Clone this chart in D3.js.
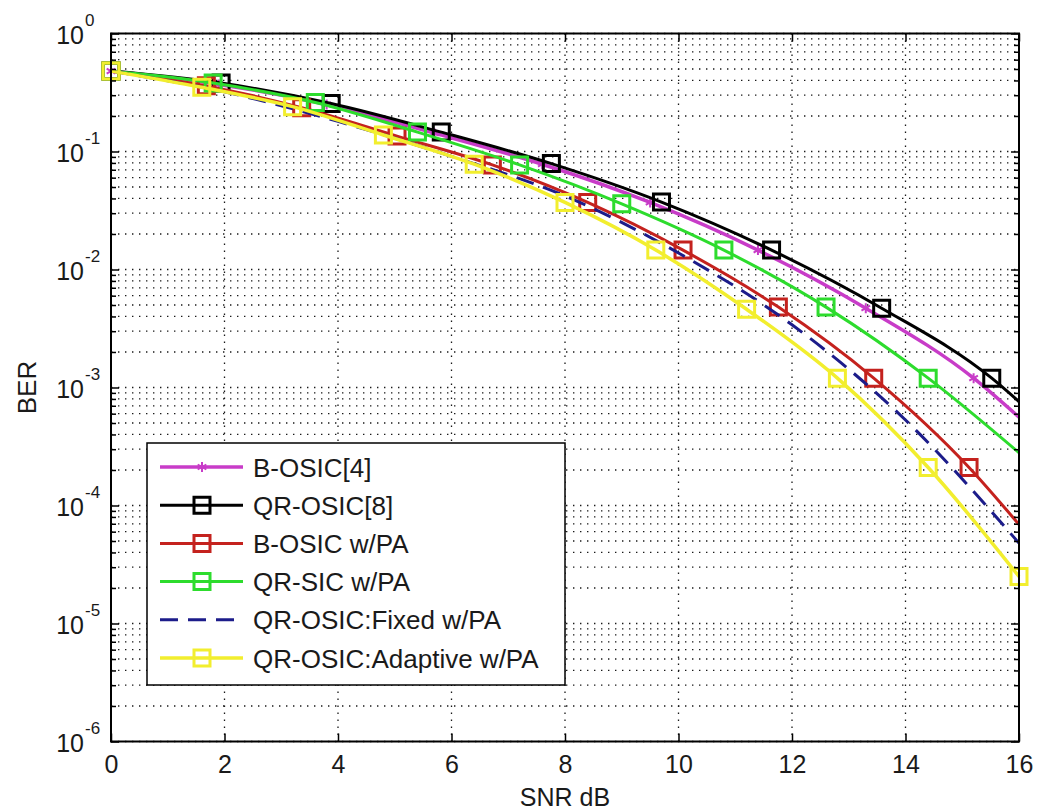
<!DOCTYPE html>
<html>
<head>
<meta charset="utf-8">
<script src="https://cdn.jsdelivr.net/npm/d3@7"></script>
<style>
  body { margin: 0; background: #fff; }
  text { font-family: "Liberation Sans", Arial, sans-serif; fill: #1a1a1a; }
  .axis path { display: none; }
  .axis line { stroke: #000; stroke-width: 1.5; }
  .grid line { stroke: #1a1a1a; stroke-width: 1.3; stroke-dasharray: 1.4 5.6; }
</style>
</head>
<body>
<div id="div_graph"></div>
<script>
// x axis ticks (SNR dB) and y decades (BER)
var xTicks = [0, 2, 4, 6, 8, 10, 12, 14, 16];
var yDecades = [1, 1e-1, 1e-2, 1e-3, 1e-4, 1e-5, 1e-6];
var yExponents = ["0", "-1", "-2", "-3", "-4", "-5", "-6"];

// B-OSIC[4]
var snrBosic = [0, 1.9, 3.8, 5.7, 7.6, 9.5, 11.4, 13.3, 15.2, 16];
var berBosic = [0.48, 0.37, 0.25, 0.143, 0.078, 0.037, 0.0146, 0.0047, 0.0012, 5.6e-4];
// QR-OSIC[8]
var snrQrosic = [0, 1.94, 3.88, 5.82, 7.76, 9.7, 11.64, 13.58, 15.52, 16];
var berQrosic = [0.48, 0.38, 0.255, 0.146, 0.079, 0.0373, 0.0146, 0.0047, 0.0012, 7.6e-4];
// B-OSIC w/PA
var snrBosicPa = [0, 1.68, 3.36, 5.04, 6.72, 8.4, 10.08, 11.76, 13.44, 15.12, 16];
var berBosicPa = [0.48, 0.36, 0.235, 0.135, 0.077, 0.037, 0.0146, 0.0048, 0.0012, 2.1e-4, 6.9e-5];
// QR-SIC w/PA
var snrQrsicPa = [0, 1.8, 3.6, 5.4, 7.2, 9.0, 10.8, 12.6, 14.4, 16];
var berQrsicPa = [0.48, 0.38, 0.26, 0.146, 0.077, 0.036, 0.0146, 0.0048, 0.0012, 2.8e-4];
// QR-OSIC:Fixed w/PA
var snrFixed = [0, 2, 4, 6, 8, 10, 12, 14, 16];
var berFixed = [0.48, 0.32, 0.18, 0.091, 0.042, 0.0138, 0.0034, 5.3e-4, 4.8e-5];
// QR-OSIC:Adaptive w/PA
var snrAdaptive = [0, 1.6, 3.2, 4.8, 6.4, 8.0, 9.6, 11.2, 12.8, 14.4, 16];
var berAdaptive = [0.48, 0.35, 0.24, 0.138, 0.078, 0.037, 0.0146, 0.0046, 0.0012, 2.1e-4, 2.5e-5];

var seriesNames = ["B-OSIC[4]", "QR-OSIC[8]", "B-OSIC w/PA", "QR-SIC w/PA", "QR-OSIC:Fixed w/PA", "QR-OSIC:Adaptive w/PA"];

function zip(xs, ys)
{
  return xs.map(function(x, i) { return {snr: x, ber: ys[i]}; });
}

var series = [
  {name: seriesNames[0], data: zip(snrBosic, berBosic), color: "#c83cc8", width: 3.5, marker: "star", markEnd: false},
  {name: seriesNames[1], data: zip(snrQrosic, berQrosic), color: "#000000", width: 3, marker: "square", markEnd: false},
  {name: seriesNames[2], data: zip(snrBosicPa, berBosicPa), color: "#c4221e", width: 3, marker: "square", markEnd: false},
  {name: seriesNames[3], data: zip(snrQrsicPa, berQrsicPa), color: "#2ddc2d", width: 3, marker: "square", markEnd: false},
  {name: seriesNames[4], data: zip(snrFixed, berFixed), color: "#1c1c8a", width: 3, marker: null, dash: "18 10"},
  {name: seriesNames[5], data: zip(snrAdaptive, berAdaptive), color: "#f2ee2e", width: 3.5, marker: "square", markEnd: true}
];

var margin = {top: 33.5, right: 19, bottom: 70.5, left: 111};
var W = 1038, H = 812;
var width = W - margin.left - margin.right;
var height = H - margin.top - margin.bottom;

var svg = d3.select("#div_graph").append("svg")
  .attr("width", W).attr("height", H)
  .append("g")
  .attr("transform", "translate(" + margin.left + "," + margin.top + ")");

var xScale = d3.scaleLinear().domain([0, 16]).range([0, width]);
var yScale = d3.scaleLog().domain([1e-6, 1]).range([height, 0]);

// minor decade values 2..9 x 10^k
var yMinor = [];
yDecades.slice(1).forEach(function(d)
{
  for (var m = 2; m <= 9; m++) yMinor.push(d * m);
});

// grid
var grid = svg.append("g").attr("class", "grid");
grid.selectAll(".gy").data(yDecades.concat(yMinor)).enter().append("line")
  .attr("x1", 0).attr("x2", width)
  .attr("y1", function(d) { return yScale(d); })
  .attr("y2", function(d) { return yScale(d); });
grid.selectAll(".gx").data(xTicks.slice(1, -1)).enter().append("line")
  .attr("y1", 0).attr("y2", height)
  .attr("x1", function(d) { return xScale(d); })
  .attr("x2", function(d) { return xScale(d); });

// lines
var valueline = d3.line()
  .x(function(d) { return xScale(d.snr); })
  .y(function(d) { return yScale(d.ber); })
  .curve(d3.curveMonotoneX);

var symSquare = d3.symbol().type(d3.symbolSquare).size(256);
var symStar = d3.symbol().type(d3.symbolAsterisk).size(70);

series.forEach(function(s)
{
  svg.append("path").datum(s.data)
    .attr("fill", "none")
    .attr("stroke", s.color)
    .attr("stroke-width", s.width)
    .attr("stroke-dasharray", s.dash || null)
    .attr("d", valueline);

  if (s.marker)
  {
    var pts = s.markEnd ? s.data : s.data.slice(0, -1);
    svg.selectAll(null).data(pts).enter().append("path")
      .attr("transform", function(d) { return "translate(" + xScale(d.snr) + "," + yScale(d.ber) + ")"; })
      .attr("d", s.marker == "square" ? symSquare : symStar)
      .attr("fill", "none")
      .attr("stroke", s.color)
      .attr("stroke-width", s.marker == "square" ? 3 : 2);
  }
});

// axes with inward ticks
var xAxisCall = d3.axisBottom(xScale).tickValues(xTicks).tickSizeInner(-8).tickSizeOuter(0).tickPadding(14);
var xAxisTop = d3.axisTop(xScale).tickValues(xTicks).tickSizeInner(-8).tickSizeOuter(0).tickFormat("");
var yAxisCall = d3.axisLeft(yScale).tickValues(yDecades).tickSizeInner(-8).tickSizeOuter(0).tickFormat("");
var yAxisRight = d3.axisRight(yScale).tickValues(yDecades).tickSizeInner(-8).tickSizeOuter(0).tickFormat("");
var yMinorLeft = d3.axisLeft(yScale).tickValues(yMinor).tickSizeInner(-5).tickSizeOuter(0).tickFormat("");
var yMinorRight = d3.axisRight(yScale).tickValues(yMinor).tickSizeInner(-5).tickSizeOuter(0).tickFormat("");

svg.append("g").attr("class", "x axis").attr("transform", "translate(0," + height + ")").call(xAxisCall)
  .selectAll("text").style("font-size", "25px");
svg.append("g").attr("class", "axis").call(xAxisTop);
svg.append("g").attr("class", "y axis").call(yAxisCall);
svg.append("g").attr("class", "axis").attr("transform", "translate(" + width + ",0)").call(yAxisRight);
svg.append("g").attr("class", "axis").call(yMinorLeft);
svg.append("g").attr("class", "axis").attr("transform", "translate(" + width + ",0)").call(yMinorRight);

// y tick labels 10^k
svg.select(".y").selectAll(".tick").each(function(d, i)
{
  var t = d3.select(this);
  t.selectAll("text").remove();
  t.append("text").attr("x", -27).attr("y", 9.5)
    .attr("text-anchor", "end").style("font-size", "25px").text("10");
  t.append("text").attr("x", -26).attr("y", -8.5)
    .attr("text-anchor", "start").style("font-size", "17px").text(yExponents[i]);
});

// box
svg.append("rect").attr("width", width).attr("height", height)
  .attr("fill", "none").attr("stroke", "#000").attr("stroke-width", 2);

// axis labels
svg.append("text")
  .attr("x", width / 2).attr("y", H - margin.top - 6)
  .attr("text-anchor", "middle").style("font-size", "25px")
  .text("SNR dB");
svg.append("text")
  .attr("transform", "rotate(-90)")
  .attr("x", -height / 2).attr("y", 36 - margin.left)
  .attr("text-anchor", "middle").style("font-size", "26px")
  .text("BER");

// legend
var legend = d3.select("svg").append("g").attr("class", "legend");
legend.append("rect").attr("x", 147).attr("y", 443).attr("width", 418).attr("height", 242)
  .attr("fill", "#fff").attr("stroke", "#000").attr("stroke-width", 1.5);
var rowY = d3.scaleLinear().domain([0, 5]).range([467, 658]);
series.forEach(function(s, i)
{
  var y = rowY(i);
  legend.append("line").attr("x1", 160).attr("x2", 243).attr("y1", y).attr("y2", y)
    .attr("stroke", s.color).attr("stroke-width", s.width)
    .attr("stroke-dasharray", s.dash || null);
  if (s.marker)
  {
    legend.append("path").attr("transform", "translate(202," + y + ")")
      .attr("d", s.marker == "square" ? symSquare : symStar)
      .attr("fill", "none").attr("stroke", s.color)
      .attr("stroke-width", s.marker == "square" ? 3 : 2);
  }
  legend.append("text").attr("x", 253).attr("y", y + 9.5)
    .style("font-size", "26px").text(s.name);
});
</script>
</body>
</html>
